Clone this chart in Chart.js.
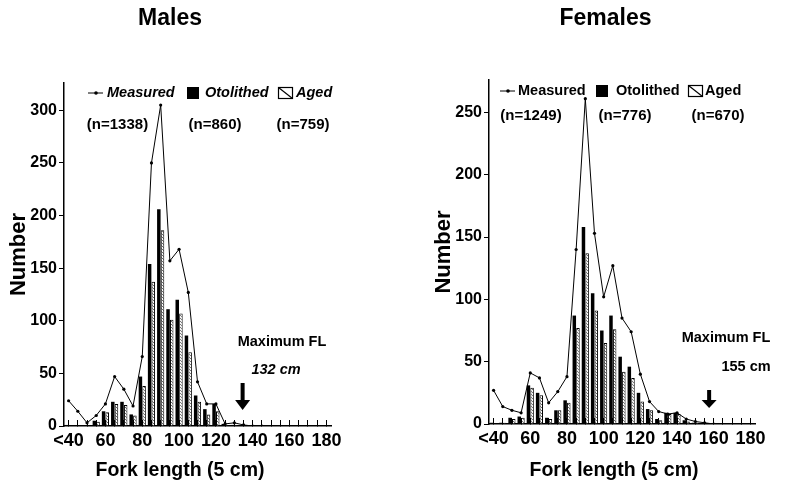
<!DOCTYPE html>
<html><head><meta charset="utf-8">
<script src="https://cdn.jsdelivr.net/npm/chart.js@4.4.1/dist/chart.umd.min.js"></script>
<style>
html,body{margin:0;padding:0;background:#fff;}
#wrap{position:relative;width:791px;height:489px;overflow:hidden;background:#fff;}
#c1{position:absolute;left:0;top:0;}
#c2{position:absolute;left:395px;top:0;}
</style></head><body>
<div id="wrap"><canvas id="c1" width="395" height="489"></canvas><canvas id="c2" width="396" height="489"></canvas></div>
<script>
// ---------- data ----------
const categories = ["<40","45","50","55","60","65","70","75","80","85","90","95","100","105","110","115","120","125","130","135","140","145","150","155","160","165","170","175","180"];
const tickLabels = ["<40","60","80","100","120","140","160","180"];
const legendLabels = ["Measured","Otolithed","Aged"];

const maleMeasured  = [24,14,3,10,21,47,35,19,66,250,305,157,168,127,42,21,21,2,3,1,0,0,null,null,null,null,null,null,null];
const maleOtolithed = [1,0,0,5,14,23,23,11,47,154,206,111,120,86,29,16,21,2,1,0,0,0,0,0,0,0,0,0,0];
const maleAged      = [0,0,0,4,13,21,20,10,38,137,186,101,107,70,23,11,14,1,1,0,0,0,0,0,0,0,0,0,0];
const maleN = [1338,860,759];
const maleMaxFL = 132;

const femaleMeasured  = [27,14,11,9,41,37,17,26,38,140,261,153,102,127,85,74,40,18,10,8,9,4,2,1,0,null,null,null,null];
const femaleOtolithed = [1,1,5,6,31,25,5,11,19,87,158,105,75,87,54,46,25,12,4,9,9,3,1,0,0,0,0,0,0];
const femaleAged      = [0,1,4,5,29,23,4,11,17,77,137,91,65,76,42,37,18,11,3,8,8,2,1,0,0,0,0,0,0];
const femaleN = [1249,776,670];
const femaleMaxFL = 155;

// ---------- styling ----------
const FF = "'Liberation Sans', Arial, Helvetica, sans-serif";

function makePattern(){
  const c = document.createElement('canvas'); c.width = 3; c.height = 3;
  const g = c.getContext('2d');
  g.fillStyle = '#fff'; g.fillRect(0,0,3,3);
  g.fillStyle = '#666'; g.fillRect(0,0,1,1); g.fillRect(1,1,1,1); g.fillRect(2,2,1,1);
  return g.createPattern(c,'repeat');
}

const decor = {
  id: 'decor',
  afterDraw(chart, args, o){
    const ctx = chart.ctx;
    ctx.save();
    ctx.fillStyle = '#000'; ctx.strokeStyle = '#000';
    ctx.textBaseline = 'middle';
    // title
    ctx.textAlign = 'center';
    ctx.font = `bold 23px ${FF}`;
    ctx.fillText(o.title, o.titleX, o.titleY);
    // x title
    ctx.font = `bold 19.5px ${FF}`;
    ctx.fillText('Fork length (5 cm)', o.xTitleX, o.xTitleY);
    // legend
    const ly = o.legendY, lx = o.lx;
    ctx.textAlign = 'left';
    ctx.font = `${o.italic ? 'italic ' : ''}bold 14.5px ${FF}`;
    ctx.lineWidth = 1;
    ctx.beginPath(); ctx.moveTo(lx[0], ly); ctx.lineTo(lx[0] + 15, ly); ctx.stroke();
    ctx.beginPath(); ctx.arc(lx[0] + 8, ly, 1.8, 0, Math.PI * 2); ctx.fill();
    ctx.fillText(legendLabels[0], lx[1], ly);
    ctx.fillRect(lx[2], ly - 6, 12, 12);
    ctx.fillText(legendLabels[1], lx[3], ly);
    ctx.lineWidth = 1.2;
    ctx.strokeRect(lx[4] + 0.5, ly - 5.5, 14, 11);
    ctx.beginPath(); ctx.moveTo(lx[4] + 0.5, ly - 5.5); ctx.lineTo(lx[4] + 14.5, ly + 5.5); ctx.stroke();
    ctx.fillText(legendLabels[2], lx[5], ly);
    // n labels
    ctx.textAlign = 'center';
    ctx.font = `bold 15px ${FF}`;
    o.n.forEach((n, i) => ctx.fillText(`(n=${n})`, o.nx[i], o.nY));
    // Maximum FL annotation
    ctx.font = `bold 14.5px ${FF}`;
    ctx.fillText('Maximum FL', o.mX, o.mY);
    ctx.font = `${o.italic ? 'italic ' : ''}bold 14.5px ${FF}`;
    ctx.fillText(`${o.maxFL} cm`, o.cmX, o.cmY);
    // arrow at the maximum fork length, positioned through the x scale
    const xs = chart.scales.x;
    const x0 = xs.getPixelForValue(0), step = xs.getPixelForValue(1) - x0;
    const ax = x0 + ((o.maxFL - 40) / 5 + 0.5) * step;
    ctx.fillRect(ax - 2, o.arrow[0], 4, o.arrow[1] - o.arrow[0] + 1);
    ctx.beginPath(); ctx.moveTo(ax - 7.5, o.arrow[1]); ctx.lineTo(ax + 7.5, o.arrow[1]); ctx.lineTo(ax, o.arrow[2]); ctx.closePath(); ctx.fill();
    ctx.restore();
  }
};

function makeChart(id, measured, otolithed, aged, L){
  return new Chart(document.getElementById(id), {
    type: 'bar',
    data: {
      labels: categories,
      datasets: [
        { type: 'line', label: legendLabels[0], data: measured, order: 0,
          borderColor: '#000', borderWidth: 1, tension: 0, spanGaps: false,
          pointRadius: 1.6, pointBorderWidth: 0, pointBackgroundColor: '#000' },
        { label: legendLabels[1], data: otolithed, order: 1, backgroundColor: '#000',
          borderWidth: 0, barPercentage: 0.95, categoryPercentage: 0.8 },
        { label: legendLabels[2], data: aged, order: 2, backgroundColor: makePattern(),
          borderColor: '#000', borderWidth: 1, barPercentage: 0.95, categoryPercentage: 0.8 }
      ]
    },
    options: {
      responsive: false, animation: false, events: [],
      layout: { padding: { top: L.top, right: L.right, bottom: 0, left: 0 } },
      plugins: { legend: { display: false }, tooltip: { enabled: false }, decor: L.decor },
      scales: {
        x: {
          offset: true,
          afterFit: s => { s.height = L.xHeight; },
          ticks: { autoSkip: false, maxRotation: 0, minRotation: 0, padding: 10, color: '#000',
                   font: { family: FF, size: 18, weight: 'bold' },
                   callback: (v, i) => tickLabels.includes(categories[i]) ? categories[i] : '' },
          grid: { display: true, drawOnChartArea: false, drawTicks: true, tickLength: -6, offset: false, color: '#000', lineWidth: 1 },
          border: { display: true, color: '#000', width: 1.5 }
        },
        y: {
          min: 0, max: L.yMax,
          afterBuildTicks: s => { s.ticks = s.ticks.filter(t => t.value % 50 === 0); },
          afterFit: s => { s.width = L.yWidth; },
          ticks: { stepSize: 50, padding: 2, color: '#000', font: { family: FF, size: 16, weight: 'bold' } },
          grid: { display: true, drawOnChartArea: false, drawTicks: true, tickLength: 5, color: '#000', lineWidth: 1 },
          border: { display: true, color: '#000', width: 1.5 },
          title: { display: true, text: 'Number', color: '#000', font: { family: FF, size: 22, weight: 'bold' }, padding: { top: L.yTitlePad, bottom: 0 } }
        }
      }
    },
    plugins: [decor]
  });
}

makeChart('c1', maleMeasured, maleOtolithed, maleAged, {
  top: 83, right: 64, xHeight: 63, yWidth: 64, yMax: 326, yTitlePad: 6,
  decor: { title: 'Males', titleX: 170, titleY: 19, xTitleX: 180, xTitleY: 471, italic: true,
           legendY: 93, lx: [88, 107, 187, 205, 278, 296],
           n: maleN, nx: [117.5, 215, 303], nY: 125,
           maxFL: maleMaxFL, mX: 282, mY: 342, cmX: 276, cmY: 370, arrow: [383, 400, 410] }
});

makeChart('c2', femaleMeasured, femaleOtolithed, femaleAged, {
  top: 80, right: 36, xHeight: 65, yWidth: 94, yMax: 276, yTitlePad: 36,
  decor: { title: 'Females', titleX: 210.5, titleY: 19, xTitleX: 219, xTitleY: 471, italic: false,
           legendY: 91, lx: [105, 123, 201, 221, 293, 310],
           n: femaleN, nx: [136, 230, 323], nY: 116,
           maxFL: femaleMaxFL, mX: 331, mY: 338, cmX: 351, cmY: 367, arrow: [390, 400, 408] }
});
</script>
</body></html>
